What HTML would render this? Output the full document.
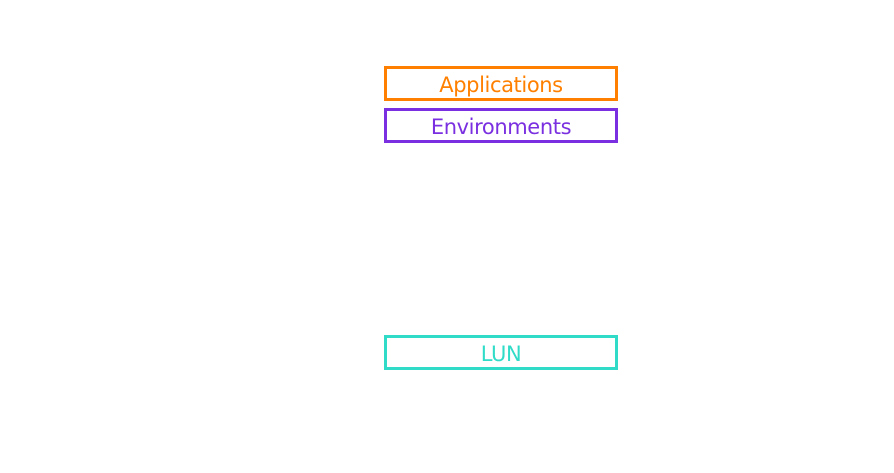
<!DOCTYPE html>
<html><head><style>
html,body{margin:0;padding:0;background:#fff;width:894px;height:473px;overflow:hidden;position:relative}
.b{position:absolute;left:384px;width:228px;height:29px;border:3px solid;font-family:"DejaVu Sans","Liberation Sans",sans-serif;font-size:21px;line-height:32px;text-align:center;letter-spacing:-0.4px}
</style></head><body>
<div class="b" style="top:66px;border-color:#ff8000;color:#ff8000">Applications</div>
<div class="b" style="top:108px;border-color:#7a30e0;color:#7a30e0">Environments</div>
<div class="b" style="top:335px;border-color:#30dcc8;color:#30dcc8">LUN</div>
</body></html>
